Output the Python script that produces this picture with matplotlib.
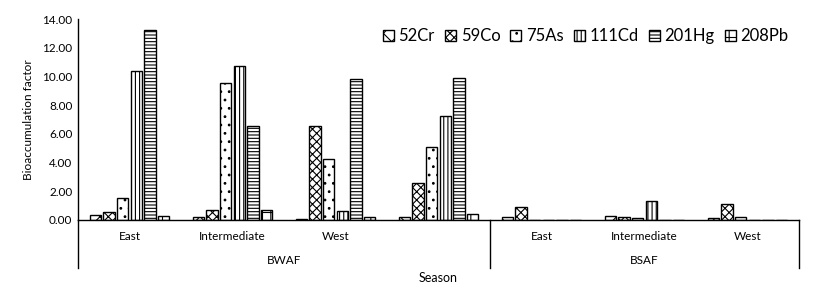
import numpy as np
import matplotlib
matplotlib.use('Agg')
import matplotlib.pyplot as plt

plt.rcParams['font.family'] = ['Lato', 'DejaVu Sans']
plt.rcParams['hatch.linewidth'] = 0.8

# Data
groups = ['BWAF', 'BSAF']
sites = ['East', 'Intermediate', 'West', '', 'East', 'Intermediate', 'West']
metals = ['52Cr', '59Co', '75As', '111Cd', '201Hg', '208Pb']

cr = [0.33, 0.19, 0.09, 0.19, 0.23, 0.30, 0.16]
co = [0.54, 0.67, 6.57, 2.58, 0.93, 0.21, 1.14]
as_ = [1.51, 9.52, 4.27, 5.10, 0.02, 0.16, 0.21]
cd = [10.38, 10.75, 0.60, 7.24, 0.02, 1.35, 0.02]
hg = [13.23, 6.57, 9.80, 9.87, 0.02, 0.02, 0.02]
pb = [0.28, 0.70, 0.19, 0.39, 0.02, 0.02, 0.02]

series = [cr, co, as_, cd, hg, pb]
hatches = ['xx', 'xxxx', '..', '||||', '-----', '++']

fig = plt.figure(figsize=(8.2, 2.92), dpi=100)
ax = fig.add_axes([78 / 820, 1 - 220 / 292, 721 / 820, 201 / 292])

x = np.arange(len(sites))
pitch = 0.133
width = 0.108
for i, (vals, h) in enumerate(zip(series, hatches)):
    ax.bar(x + (i - 2.5) * pitch, vals, width, color='white', edgecolor='black',
           linewidth=1.0, hatch=h, label=metals[i])

ax.set_xlim(-0.5, 6.5)
ax.set_ylim(0, 14)
ax.set_yticks(np.arange(0, 15, 2))
ax.set_yticklabels([f'{v:.2f}' for v in np.arange(0, 15, 2)], fontsize=8.5)
ax.tick_params(axis='y', length=0, pad=4)
ax.set_xticks([])
ax.spines['top'].set_visible(False)
ax.spines['right'].set_visible(False)
ax.spines['left'].set_linewidth(1.0)
ax.spines['bottom'].set_linewidth(1.0)
ax.set_ylabel('Bioaccumulation factor', fontsize=8.5, labelpad=6)

# multi-level category axis
tr = ax.get_xaxis_transform()
for xs in [-0.5, 3.5, 6.5]:
    ax.plot([xs, xs], [0, -0.24], transform=tr, color='black', lw=1.0, clip_on=False)
for xi, s in zip(x, sites):
    ax.text(xi, -0.08, s, transform=tr, ha='center', va='center', fontsize=8.5)
ax.text(1.5, -0.2, groups[0], transform=tr, ha='center', va='center', fontsize=8.5)
ax.text(5.0, -0.2, groups[1], transform=tr, ha='center', va='center', fontsize=8.5)
ax.text(3.0, -0.29, 'Season', transform=tr, ha='center', va='center', fontsize=9)

ax.legend(loc='center right', bbox_to_anchor=(0.995, 0.915), ncol=6, frameon=False,
          fontsize=12, handlelength=0.65, handleheight=0.65, handletextpad=0.3,
          columnspacing=0.6, borderaxespad=0)

fig.savefig('out.png', dpi=100)
